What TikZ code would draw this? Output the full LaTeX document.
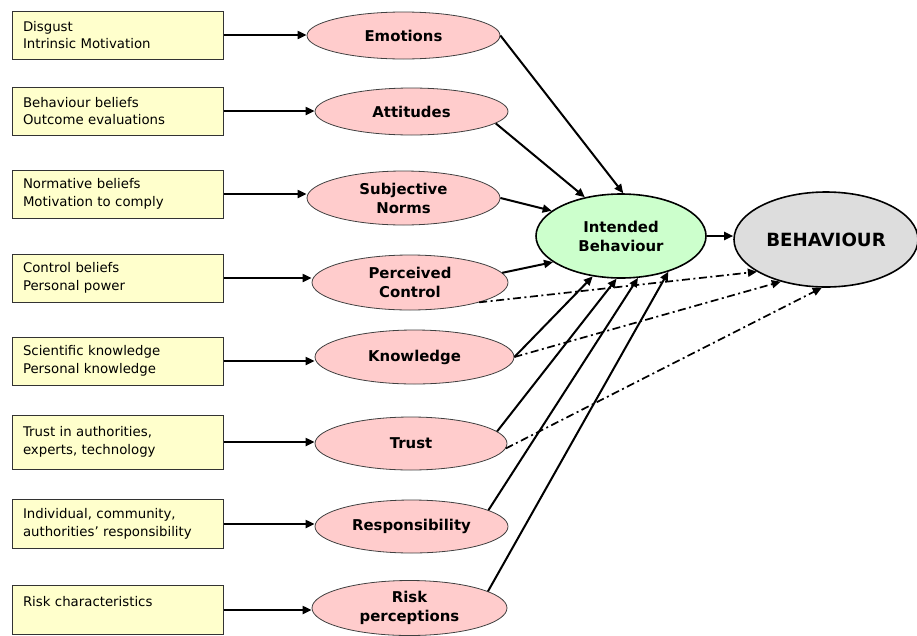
\documentclass[tikz,border=0pt]{standalone}
\usepackage{fontspec}
\setmainfont{DejaVu Sans}
\usetikzlibrary{arrows.meta,shapes.geometric}
\definecolor{boxfill}{HTML}{FFFFCC}
\definecolor{pinkfill}{HTML}{FFCCCC}
\definecolor{greenfill}{HTML}{CCFFCC}
\definecolor{greyfill}{HTML}{DDDDDD}
\tikzset{
  srcbox/.style={draw=black!80, line width=1pt, fill=boxfill, rectangle, minimum width=211pt, minimum height=48pt, text width=189pt, inner xsep=11pt, inner ysep=0pt, align=left, font=\fontsize{13.3}{17.8}\selectfont},
  factor/.style={draw=black!75, line width=0.8pt, fill=pinkfill, ellipse, inner sep=0pt, align=center, font=\fontsize{14.9}{19}\selectfont\bfseries},
  arr/.style={line width=2pt, -{Triangle[length=9pt,width=8pt]}},
  darr/.style={line width=1.7pt, dash pattern=on 8pt off 3.5pt on 2pt off 3.5pt, -{Triangle[length=9pt,width=8pt]}}
}
\begin{document}
\begin{tikzpicture}[x=1pt,y=-1pt]
\useasboundingbox (0,0) rectangle (917,635);
% source boxes
\node[srcbox] (b1) at (117.5,35) {Disgust\\Intrinsic Motivation};
\node[srcbox] (b2) at (117.5,111) {Behaviour beliefs\\Outcome evaluations};
\node[srcbox] (b3) at (117.5,194) {Normative beliefs\\Motivation to comply};
\node[srcbox] (b4) at (117.5,278) {Control beliefs\\Personal power};
\node[srcbox] (b5) at (117.5,361) {Scientific knowledge\\Personal knowledge};
\node[srcbox, minimum height=54pt] (b6) at (117.5,442) {Trust in authorities,\\experts, technology};
\node[srcbox, minimum height=49pt] (b7) at (117.5,524) {Individual, community,\\authorities’ responsibility};
\node[srcbox, minimum height=49pt] (b8) at (117.5,610) {Risk characteristics\\\mbox{}};
% factor ellipses
\node[factor, minimum width=193pt, minimum height=47pt] (e1) at (403.5,35.5) {Emotions};
\node[factor, minimum width=193pt, minimum height=47pt] (e2) at (411.5,111.5) {Attitudes};
\node[factor, minimum width=193pt, minimum height=54pt] (e3) at (403.5,198) {Subjective\\Norms};
\node[factor, minimum width=196pt, minimum height=55pt] (e4) at (410,282.5) {Perceived\\Control};
\node[factor, minimum width=199pt, minimum height=54pt] (e5) at (414.5,357) {Knowledge};
\node[factor, minimum width=192pt, minimum height=53pt] (e6) at (411,443.5) {Trust};
\node[factor, minimum width=193pt, minimum height=53pt] (e7) at (411.5,526.5) {Responsibility};
\node[factor, minimum width=195pt, minimum height=55pt] (e8) at (409.5,608) {Risk\\perceptions};
% intention and behaviour
\node[ellipse, draw=black, line width=1.6pt, fill=greenfill, inner sep=0pt, minimum width=170pt, minimum height=84pt, align=center, font=\fontsize{14.9}{19}\selectfont\bfseries] (ib) at (621,236) {Intended\\Behaviour};
\node[ellipse, draw=black, line width=1.6pt, fill=greyfill, inner sep=0pt, minimum width=184pt, minimum height=95pt, font=\fontsize{18.2}{21}\selectfont\bfseries] (beh) at (826,239.5) {BEHAVIOUR};
% box -> factor
\foreach \i in {1,...,8} {
  \draw[arr] (b\i.east) -- (b\i.east -| e\i.west);
}
% factor -> intended behaviour
\draw[arr] (e1.east) -- (ib.87);
\draw[arr] (e2.-8) -- (ib.133);
\draw[arr] (e3.east) -- (ib.160);
\draw[arr] (e4.6) -- (ib.201.5);
\draw[arr] (e5.east) -- (ib.235.7);
\draw[arr] (e6.8) -- (ib.264);
\draw[arr] (e7.12) -- (ib.292);
\draw[arr] (e8.12) -- (ib.323);
% intended -> behaviour
\draw[arr] (ib.east) -- (ib.east -| beh.west);
% direct dash-dot links
\draw[darr] (e4.344) -- (beh.205.5);
\draw[darr] (e5.east) -- (beh.223);
\draw[darr] (e6.-3) -- (beh.265);
\end{tikzpicture}
\end{document}
